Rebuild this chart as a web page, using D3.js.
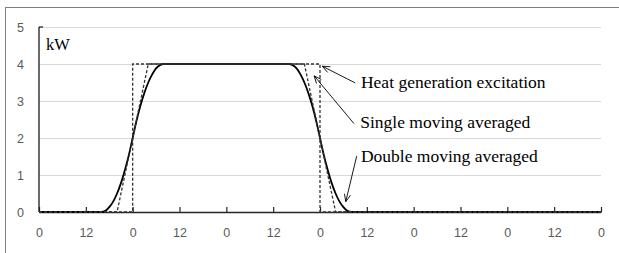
<!DOCTYPE html>
<html>
<head>
<meta charset="utf-8">
<script src="https://cdn.jsdelivr.net/npm/d3@7"></script>
<style>
  body { margin: 0; background: #fff; }
</style>
</head>
<body>
<div id="chart"></div>
<script>
// hours along the x axis, one tick every 12 h
const tickHours = [0, 12, 24, 36, 48, 60, 72, 84, 96, 108, 120, 132, 144];
const tickLabels = ["0", "12", "0", "12", "0", "12", "0", "12", "0", "12", "0", "12", "0"];
const yTicks = [0, 1, 2, 3, 4, 5];

// heat generation excitation (kW)
const excitationHours = [0, 24, 24, 72, 72, 144];
const excitationKW    = [0, 0, 4, 4, 0, 0];

// single moving averaged
const singleHours = [0, 20, 28, 68, 76, 144];
const singleKW    = [0, 0, 4, 4, 0, 0];

// double moving averaged
const doubleHours = [0, 16, 17, 18, 19, 20, 21, 22, 23, 24, 25, 26, 27, 28, 29, 30, 31, 32,
                     64, 65, 66, 67, 68, 69, 70, 71, 72, 73, 74, 75, 76, 77, 78, 79, 80, 144];
const doubleKW    = [0, 0, 0.03, 0.13, 0.28, 0.5, 0.78, 1.13, 1.53, 2, 2.47, 2.88, 3.22, 3.5, 3.72, 3.88, 3.97, 4,
                     4, 3.97, 3.88, 3.72, 3.5, 3.22, 2.88, 2.47, 2, 1.53, 1.13, 0.78, 0.5, 0.28, 0.13, 0.03, 0, 0];

// labels with arrow (tip, tail) in hours / kW
const notes = [
  { text: "Heat generation excitation", tip: [72.6, 3.94], tail: [81.0, 3.49], at: [82.5, 3.51] },
  { text: "Single moving averaged",     tip: [70.5, 3.68], tail: [80.7, 2.39], at: [82.3, 2.41] },
  { text: "Double moving averaged",     tip: [78.6, 0.28], tail: [81.4, 1.51], at: [82.5, 1.49] }
];

const W = 619, H = 253;
const svg = d3.select("#chart").append("svg")
  .attr("width", W).attr("height", H);

// outer frame
svg.append("rect")
  .attr("x", 5.5).attr("y", 7.5)
  .attr("width", W + 10).attr("height", H + 10)
  .attr("fill", "none").attr("stroke", "#7f7f7f");

const x = d3.scaleLinear().domain([0, 144]).range([39, 601]);
const y = d3.scaleLinear().domain([0, 5]).range([212, 27]);

// gridlines
svg.append("g")
  .selectAll("line")
  .data(yTicks.slice(1))
  .enter().append("line")
  .attr("x1", x(0)).attr("x2", x(144))
  .attr("y1", d => Math.round(y(d)) + 0.5).attr("y2", d => Math.round(y(d)) + 0.5)
  .attr("stroke", "#d9d9d9").attr("stroke-width", 1);

// y labels
svg.append("g")
  .selectAll("text")
  .data(yTicks)
  .enter().append("text")
  .attr("x", 24)
  .attr("y", d => y(d) + 5)
  .attr("text-anchor", "end")
  .style("font-family", "Liberation Sans, Arial, sans-serif")
  .style("font-size", "12.5px")
  .attr("fill", "#595959")
  .text(d => d);

// x axis, ticks pointing up into the plot
const xAxis = svg.append("g")
  .attr("transform", `translate(0,${y(0)})`)
  .call(d3.axisBottom(x).tickValues(tickHours).tickSizeInner(-5).tickSizeOuter(0)
    .tickFormat((d, i) => tickLabels[i]));
xAxis.select(".domain").attr("stroke", "#262626").attr("stroke-width", 1.6);
xAxis.selectAll(".tick line").attr("stroke", "#262626").attr("stroke-width", 1.2);
xAxis.selectAll(".tick text")
  .attr("y", 16)
  .style("font-family", "Liberation Sans, Arial, sans-serif")
  .style("font-size", "12.5px")
  .attr("fill", "#595959");

// y axis line
svg.append("line")
  .attr("x1", x(0)).attr("x2", x(0))
  .attr("y1", y(5)).attr("y2", y(0))
  .attr("stroke", "#1a1a1a").attr("stroke-width", 1.3);
svg.append("line")
  .attr("x1", x(0)).attr("x2", x(0) + 4)
  .attr("y1", y(5)).attr("y2", y(5))
  .attr("stroke", "#1a1a1a").attr("stroke-width", 1.2);

// unit
svg.append("text")
  .attr("x", 46).attr("y", 50)
  .style("font-family", "Liberation Serif, Times New Roman, serif")
  .style("font-size", "16.5px")
  .attr("fill", "#000")
  .text("kW");

const line = d3.line().x(d => x(d[0])).y(d => y(d[1]));
const smooth = d3.line().x(d => x(d[0])).y(d => y(d[1])).curve(d3.curveMonotoneX);

svg.append("path")
  .datum(doubleHours.map((h, i) => [h, doubleKW[i]]))
  .attr("d", smooth)
  .attr("fill", "none").attr("stroke", "#000").attr("stroke-width", 1.8);

svg.append("path")
  .datum(singleHours.map((h, i) => [h, singleKW[i]]))
  .attr("d", line)
  .attr("fill", "none").attr("stroke", "#333").attr("stroke-width", 1.3)
  .attr("stroke-dasharray", "3,2");

svg.append("path")
  .datum(excitationHours.map((h, i) => [h, excitationKW[i]]))
  .attr("d", line)
  .attr("fill", "none").attr("stroke", "#333").attr("stroke-width", 1.3)
  .attr("stroke-dasharray", "3,2");

// annotations
notes.forEach(n => {
  const x1 = x(n.tail[0]), y1 = y(n.tail[1]);
  const x2 = x(n.tip[0]), y2 = y(n.tip[1]);
  svg.append("line")
    .attr("x1", x1).attr("y1", y1).attr("x2", x2).attr("y2", y2)
    .attr("stroke", "#000").attr("stroke-width", 0.9);
  const a = Math.atan2(y1 - y2, x1 - x2);
  [0.4, -0.4].forEach(da => {
    svg.append("line")
      .attr("x1", x2).attr("y1", y2)
      .attr("x2", x2 + 8 * Math.cos(a + da)).attr("y2", y2 + 8 * Math.sin(a + da))
      .attr("stroke", "#000").attr("stroke-width", 0.9);
  });
  svg.append("text")
    .attr("x", x(n.at[0])).attr("y", y(n.at[1]) + 5.5)
    .style("font-family", "Liberation Serif, Times New Roman, serif")
    .style("font-size", "17.5px")
    .attr("fill", "#000")
    .text(n.text);
});
</script>
</body>
</html>
